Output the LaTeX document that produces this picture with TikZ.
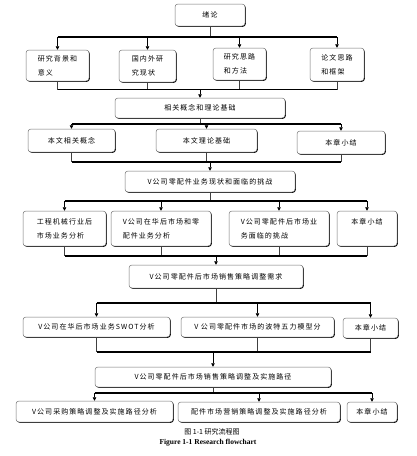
\documentclass[tikz,border=0pt]{standalone}
\usepackage{fontspec}
\setmainfont{Liberation Serif}
\newfontfamily\cjk[LetterSpace=15]{Noto Sans CJK SC}
\newfontfamily\cjkcap{Noto Sans CJK SC}
\usetikzlibrary{shadows,arrows.meta}
\tikzset{
  bx/.style={draw=black!55, line width=0.5pt, rounded corners=3pt, fill=white,
    drop shadow={shadow xshift=0.8pt, shadow yshift=-0.8pt, fill=black, opacity=1},
    inner sep=0pt, align=left, font=\cjk\fontsize{7}{14}\selectfont},
  bus/.style={line width=1.5pt, black},
  vl/.style={line width=0.5pt, black!75},
  arr/.style={line width=0.5pt, black, -{Triangle[width=3.5pt,length=3.5pt]}},
}
\begin{document}
\begin{tikzpicture}[x=1pt,y=-1pt]
\useasboundingbox (0,0) rectangle (416,456);
% nodes
\node[bx, minimum width=70pt, minimum height=22pt] (r0) at (210,15) {绪论};
\node[bx, minimum width=63pt, minimum height=31pt] (b11) at (57.5,65.5) {研究背景和\\意义};
\node[bx, minimum width=57pt, minimum height=32pt] (b12) at (147.5,66) {国内外研\\究现状};
\node[bx, minimum width=53pt, minimum height=32pt] (b13) at (239.5,64) {研究思路\\和方法};
\node[bx, minimum width=54pt, minimum height=33pt] (b14) at (337,64.5) {论文思路\\和框架};
\node[bx, minimum width=170pt, minimum height=20pt] (r1) at (200,108) {相关概念和理论基础};
\node[bx, minimum width=87pt, minimum height=23pt] (b21) at (71.5,140.5) {本文相关概念};
\node[bx, minimum width=101pt, minimum height=23pt] (b22) at (206.5,140.5) {本文理论基础};
\node[bx, minimum width=88pt, minimum height=23pt] (b23) at (341,142.5) {本章小结};
\node[bx, minimum width=170pt, minimum height=21pt] (r2) at (210,181.5) {V公司零配件业务现状和面临的挑战};
\node[bx, minimum width=83pt, minimum height=35pt] (b31) at (64.5,228.5) {工程机械行业后\\市场业务分析};
\node[bx, minimum width=100pt, minimum height=35pt] (b32) at (161,228.5) {V公司在华后市场和零\\配件业务分析};
\node[bx, minimum width=100pt, minimum height=35pt] (b33) at (279,228.5) {V公司零配件后市场业\\务面临的挑战};
\node[bx, minimum width=60pt, minimum height=35pt] (b34) at (367,228.5) {本章小结\\\mbox{}};
\node[bx, minimum width=174pt, minimum height=23pt] (r3) at (216,276.5) {V公司零配件后市场销售策略调整需求};
\node[bx, minimum width=147pt, minimum height=20pt] (b41) at (96.5,327) {V公司在华后市场业务SWOT分析};
\node[bx, minimum width=153pt, minimum height=20pt] (b42) at (257.5,327) {V 公司零配件市场的波特五力模型分};
\node[bx, minimum width=55pt, minimum height=20pt] (b43) at (370.5,328) {本章小结};
\node[bx, minimum width=236pt, minimum height=20pt] (r4) at (213,377) {V公司零配件后市场销售策略调整及实施路径};
\node[bx, minimum width=157pt, minimum height=21pt] (b51) at (94.5,411.5) {V公司采购策略调整及实施路径分析};
\node[bx, minimum width=162pt, minimum height=20pt] (b52) at (259,412) {配件市场营销策略调整及实施路径分析};
\node[bx, minimum width=50pt, minimum height=20pt] (b53) at (372,412) {本章小结};
\node[font=\cjkcap\fontsize{7}{8}\selectfont] (cap1) at (212,432) {图 1-1 研究流程图};
\node[font=\bfseries\fontsize{7.5}{8}\selectfont] (cap2) at (208,443) {Figure 1-1 Research flowchart};
% bus coordinates
\coordinate (t1) at (210,37);
\coordinate (u1) at (200,89.5);
\coordinate (t2) at (200,124);
\coordinate (u2) at (210,162);
\coordinate (t3) at (210,201);
\coordinate (u3) at (216,256);
\coordinate (t4) at (216,303);
\coordinate (u4) at (213,352);
\coordinate (t5) at (213,393);
% level 1
\draw[vl, line width=1pt] (r0.south) -- (t1);
\draw[bus] (b11.north |- t1) -- (b14.north |- t1);
\foreach \n in {b11,b12,b13,b14} \draw[arr] (\n.north |- t1) -- (\n.north);
\foreach \n in {b11,b12,b13,b14} \draw[vl] (\n.south) -- (\n.south |- u1);
\draw[bus] (b11.south |- u1) -- (b14.south |- u1);
\draw[arr] (u1) -- (r1.north);
% level 2
\draw[vl] (r1.south) -- (t2);
\draw[bus] (b21.north |- t2) -- (b23.north |- t2);
\foreach \n in {b21,b22,b23} \draw[arr] (\n.north |- t2) -- (\n.north);
\foreach \n in {b21,b22,b23} \draw[vl] (\n.south) -- (\n.south |- u2);
\draw[bus] (b21.south |- u2) -- (b23.south |- u2);
\draw[arr] (u2) -- (r2.north);
% level 3
\draw[vl] (r2.south) -- (t3);
\draw[bus] (b31.north |- t3) -- (b34.north |- t3);
\foreach \n in {b31,b32,b33,b34} \draw[arr] (\n.north |- t3) -- (\n.north);
\foreach \n in {b31,b32,b33,b34} \draw[vl] (\n.south) -- (\n.south |- u3);
\draw[bus] (b31.south |- u3) -- (b34.south |- u3);
\draw[arr] (u3) -- (r3.north);
% level 4
\draw[vl] (r3.south) -- (t4);
\draw[bus] (b41.north |- t4) -- (b43.north |- t4);
\foreach \n in {b41,b42,b43} \draw[arr] (\n.north |- t4) -- (\n.north);
\foreach \n in {b41,b42,b43} \draw[vl] (\n.south) -- (\n.south |- u4);
\draw[bus] (b41.south |- u4) -- (b43.south |- u4);
\draw[arr] (u4) -- (r4.north);
% level 5
\draw[vl] (r4.south) -- (t5);
\draw[bus] (b51.north |- t5) -- (b53.north |- t5);
\foreach \n in {b51,b52,b53} \draw[arr] (\n.north |- t5) -- (\n.north);
\end{tikzpicture}
\end{document}
